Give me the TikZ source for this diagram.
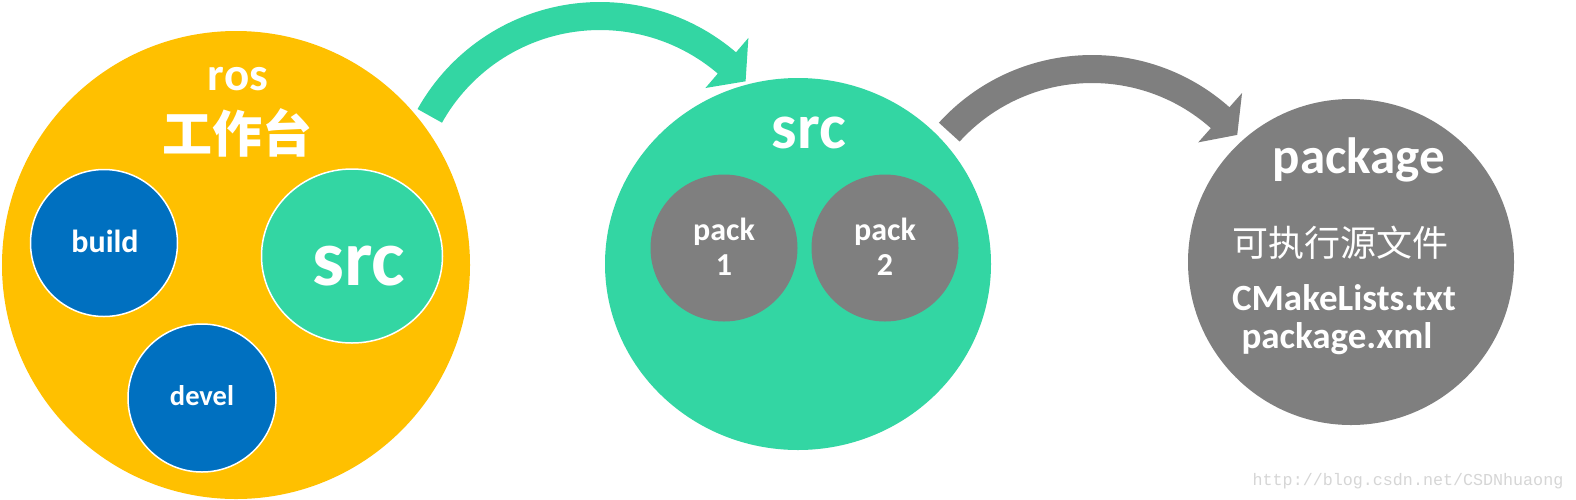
\documentclass[tikz,border=0pt]{standalone}
\usepackage{fontspec}
\setmainfont{Carlito}
\newfontfamily\cjk{Noto Sans CJK SC}
\newfontfamily\wmfont{Liberation Mono}
\usetikzlibrary{calc,shapes.geometric}
\definecolor{goldc}{HTML}{FFC000}
\definecolor{greenc}{HTML}{33D6A3}
\definecolor{bluec}{HTML}{0070C0}
\definecolor{greyc}{HTML}{7F7F7F}
\definecolor{wmc}{HTML}{D6D6D6}
\tikzset{
  disc/.style={circle, inner sep=0pt, outer sep=0pt},
  subdisc/.style={disc, draw=white, line width=1.5pt},
  lbl/.style={text=white, inner sep=0pt, anchor=base, font=\bfseries},
  fs/.style={font=\bfseries\fontsize{#1}{#1}\selectfont},
}
\begin{document}
\begin{tikzpicture}[x=1pt,y=1pt]
\useasboundingbox (0,0) rectangle (1576,-499);
\fill[white] (0,0) rectangle (1576,-499);

% arrow centres
\coordinate (c1) at (600,-211);
\coordinate (c2) at (1092,-262);

% arrow 1 (green)
\fill[greenc] ($(c1)+(150.8:209)$) arc[start angle=150.8, end angle=49.4, radius=209pt]
  -- ($(c1)+(49.4:228)$) -- ($(c1)+(41.7:195)$) -- ($(c1)+(49.4:162)$)
  -- ($(c1)+(49.4:181)$) arc[start angle=49.4, end angle=150.8, radius=181pt] -- cycle;

% arrow 2 (grey)
\fill[greyc] ($(c2)+(137.7:207)$) arc[start angle=137.7, end angle=48.4, radius=207pt]
  -- ($(c2)+(48.4:226)$) -- ($(c2)+(41.2:193)$) -- ($(c2)+(48.4:160)$)
  -- ($(c2)+(48.4:179)$) arc[start angle=48.4, end angle=137.7, radius=179pt] -- cycle;

% workspace
\node[disc, fill=goldc, minimum size=468pt] (ws) at (236,-265) {};
\node[lbl, fs=47] (ros) at (238,-90) {ros};
\node[text=white, inner sep=0pt, font=\cjk\bfseries\fontsize{50}{50}\selectfont] (wst) at (237,-133) {工作台};
\node[subdisc, fill=bluec, minimum size=147pt] (build) at (104,-243) {};
\node[lbl, fs=32] at (105,-252) {build};
\node[subdisc, fill=bluec, minimum size=148pt] (devel) at (202,-398) {};
\node[lbl, fs=28.5] at (202,-405) {devel};
\node[subdisc, fill=greenc, minimum width=181pt, minimum height=174pt, ellipse] (srcs) at (352,-256) {};
\node[lbl, fs=80] at (359,-285) {src};

% src
\node[ellipse, inner sep=0pt, outer sep=0pt, fill=greenc, minimum width=386pt, minimum height=372pt] (src) at (798,-264) {};
\node[lbl, fs=64] at (809,-148) {src};
\node[disc, fill=greyc, minimum size=147pt] (p1) at (724,-248) {};
\node[lbl, fs=32] at (724,-240) {pack};
\node[lbl, fs=32] at (724,-275) {1};
\node[disc, fill=greyc, minimum size=147pt] (p2) at (885,-248) {};
\node[lbl, fs=32] at (885,-240) {pack};
\node[lbl, fs=32] at (885,-275) {2};

% package
\node[disc, fill=greyc, minimum size=326pt] (pkg) at (1351,-262) {};
\node[lbl, fs=51] at (1359,-173) {package};
\node[text=white, inner sep=0pt, font=\cjk\fontsize{36}{36}\selectfont] at (1340,-243) {可执行源文件};
\node[lbl, fs=37] at (1344,-310) {CMakeLists.txt};
\node[lbl, fs=37] at (1337,-348) {package.xml};

% watermark
\node[text=wmc, inner sep=0pt, anchor=base, font=\wmfont\fontsize{16.7}{16.7}\selectfont] at (1408,-485) {http://blog.csdn.net/CSDNhuaong};
\end{tikzpicture}
\end{document}
